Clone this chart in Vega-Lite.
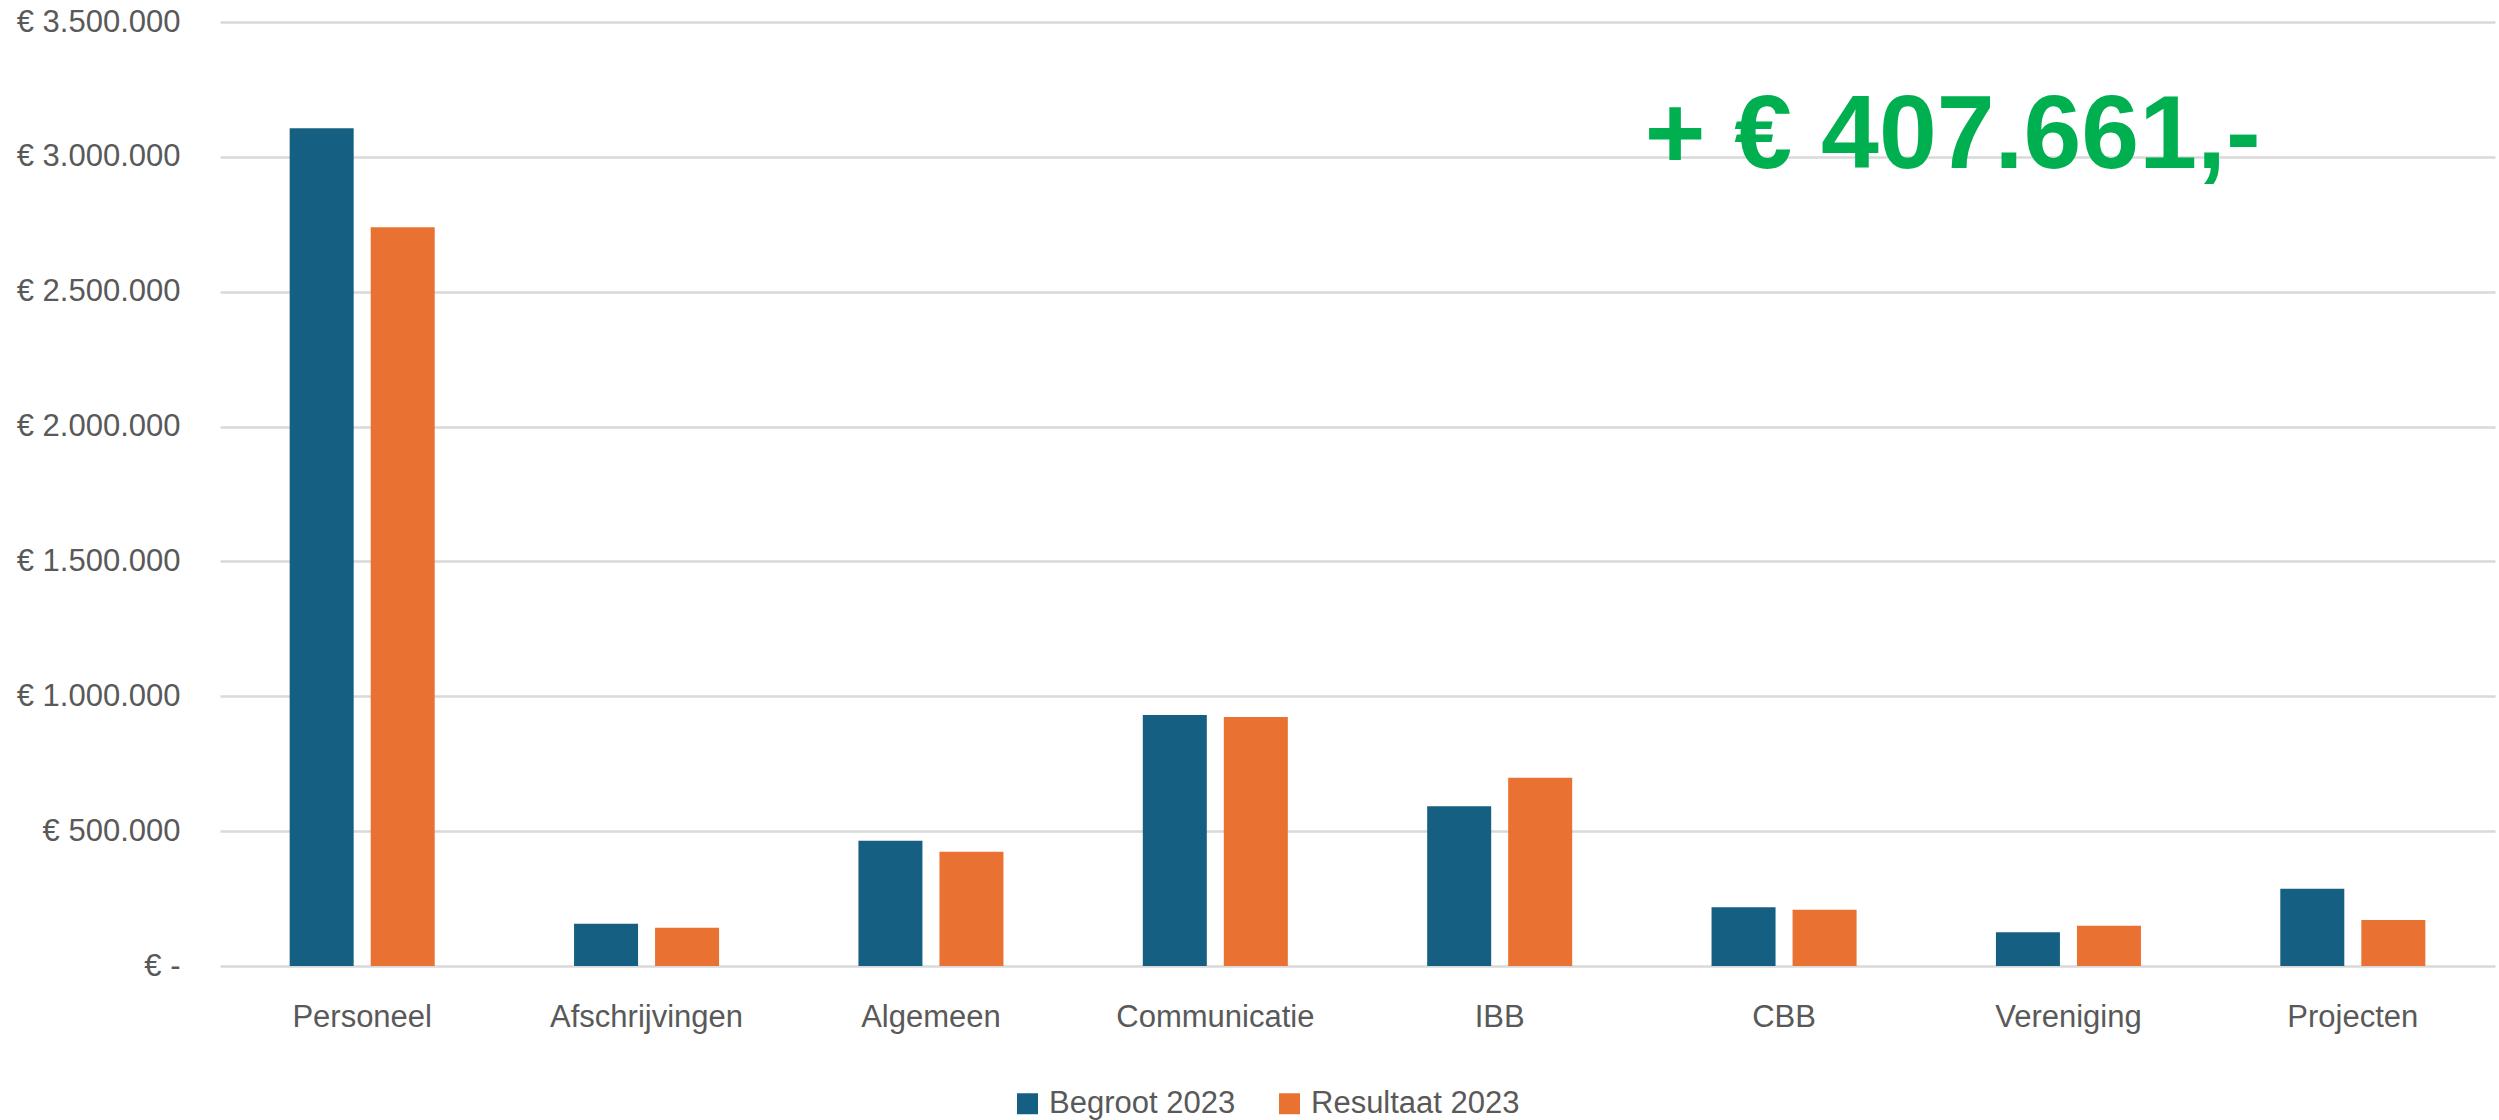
{
  "$schema": "https://vega.github.io/schema/vega-lite/v6.json",
  "autosize": {"type": "none"},
  "padding": {"left": 220, "top": 22, "right": 4, "bottom": 154},
  "width": 2275,
  "height": 944,
  "background": "white",
  "config": {
    "view": {"stroke": null},
    "font": "Liberation Sans"
  },
  "layer": [
    {
      "data": {
        "values": [
          {"categorie": "Personeel", "reeks": "Begroot 2023", "bedrag": 3106000},
          {"categorie": "Personeel", "reeks": "Resultaat 2023", "bedrag": 2739000},
          {"categorie": "Afschrijvingen", "reeks": "Begroot 2023", "bedrag": 157000},
          {"categorie": "Afschrijvingen", "reeks": "Resultaat 2023", "bedrag": 142000},
          {"categorie": "Algemeen", "reeks": "Begroot 2023", "bedrag": 464000},
          {"categorie": "Algemeen", "reeks": "Resultaat 2023", "bedrag": 424000},
          {"categorie": "Communicatie", "reeks": "Begroot 2023", "bedrag": 931000},
          {"categorie": "Communicatie", "reeks": "Resultaat 2023", "bedrag": 923000},
          {"categorie": "IBB", "reeks": "Begroot 2023", "bedrag": 592000},
          {"categorie": "IBB", "reeks": "Resultaat 2023", "bedrag": 698000},
          {"categorie": "CBB", "reeks": "Begroot 2023", "bedrag": 218000},
          {"categorie": "CBB", "reeks": "Resultaat 2023", "bedrag": 209000},
          {"categorie": "Vereniging", "reeks": "Begroot 2023", "bedrag": 125000},
          {"categorie": "Vereniging", "reeks": "Resultaat 2023", "bedrag": 149000},
          {"categorie": "Projecten", "reeks": "Begroot 2023", "bedrag": 286000},
          {"categorie": "Projecten", "reeks": "Resultaat 2023", "bedrag": 171000}
        ]
      },
      "mark": {"type": "bar"},
      "encoding": {
        "x": {
          "field": "categorie",
          "type": "nominal",
          "sort": null,
          "scale": {"paddingInner": 0.49, "paddingOuter": 0.245},
          "axis": {
            "title": null,
            "labelAngle": 0,
            "labelFontSize": 31,
            "labelColor": "#595959",
            "labelPadding": 36,
            "labelLimit": 0,
            "labelOverlap": false,
            "domain": false,
            "ticks": false,
            "tickSize": 0
          }
        },
        "xOffset": {
          "field": "reeks",
          "type": "nominal",
          "sort": ["Begroot 2023", "Resultaat 2023"],
          "scale": {"paddingInner": 0.21, "paddingOuter": 0}
        },
        "y": {
          "field": "bedrag",
          "type": "quantitative",
          "scale": {"domain": [0, 3500000], "nice": false},
          "axis": {
            "title": null,
            "values": [0, 500000, 1000000, 1500000, 2000000, 2500000, 3000000, 3500000],
            "labelExpr": "datum.value == 0 ? '€ -\u00a0\u00a0' : '€ ' + replace(format(datum.value, ','), regexp(',', 'g'), '.')",
            "labelFontSize": 31,
            "labelColor": "#595959",
            "labelPadding": 40,
            "labelLimit": 0,
            "domain": false,
            "ticks": false,
            "tickSize": 0,
            "gridColor": "#D9D9D9",
            "gridWidth": 2.5
          }
        },
        "color": {
          "field": "reeks",
          "type": "nominal",
          "scale": {
            "domain": ["Begroot 2023", "Resultaat 2023"],
            "range": ["#156082", "#E97132"]
          },
          "legend": {
            "title": null,
            "orient": "none",
            "direction": "horizontal",
            "legendX": 792,
            "legendY": 1066,
            "symbolType": "square",
            "symbolSize": 441,
            "symbolStrokeWidth": 0,
            "labelFontSize": 31,
            "labelColor": "#595959",
            "labelOffset": 6,
            "labelLimit": 0,
            "columnPadding": 38
          }
        }
      }
    },
    {
      "data": {"values": [{}]},
      "mark": {
        "type": "text",
        "align": "left",
        "baseline": "alphabetic",
        "dx": 145,
        "fontSize": 104,
        "fontWeight": "bold",
        "color": "#00B050"
      },
      "encoding": {
        "x": {"datum": "IBB"},
        "y": {"datum": 2960000},
        "text": {"value": "+ € 407.661,-"}
      }
    }
  ]
}
